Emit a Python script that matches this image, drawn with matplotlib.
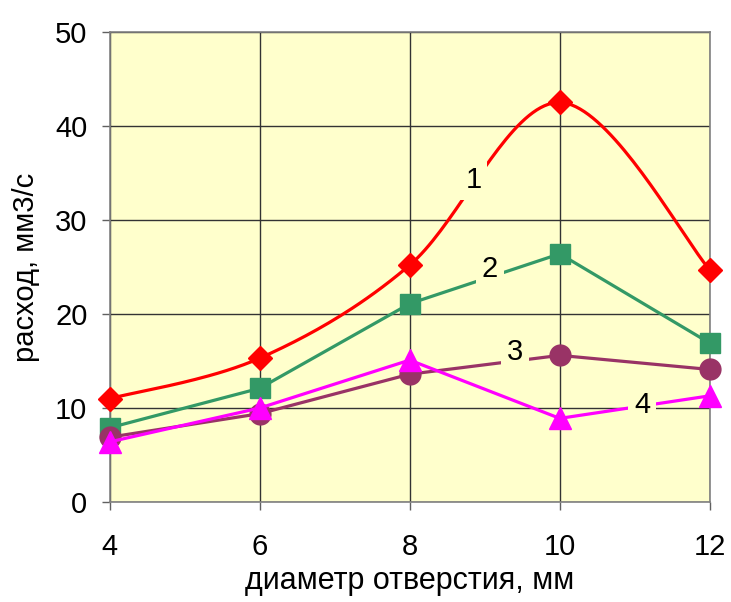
import numpy as np
import matplotlib
matplotlib.use("Agg")
import matplotlib.pyplot as plt

plt.rcParams['font.family'] = ['Liberation Sans', 'DejaVu Sans']

x = [4, 6, 8, 10, 12]
s1 = [11.0, 15.3, 25.2, 42.5, 24.7]
s2 = [7.9, 12.1, 21.1, 26.4, 16.9]
s3 = [6.9, 9.4, 13.6, 15.6, 14.1]
s4 = [6.4, 10.0, 15.1, 8.9, 11.3]
labels = ['1', '2', '3', '4']
label_pos = [(8.85, 34.2), (9.07, 24.8), (9.4, 16.0), (11.1, 10.3)]

def catmull(xs, ys, n=40):
    xs = np.asarray(xs, float); ys = np.asarray(ys, float)
    P = np.column_stack([xs, ys])
    P = np.vstack([P[0], P, P[-1]])
    out = []
    for i in range(1, len(P) - 2):
        p0, p1, p2, p3 = P[i-1], P[i], P[i+1], P[i+2]
        c1 = p1 + (p2 - p0) / 6.0
        c2 = p2 - (p3 - p1) / 6.0
        t = np.linspace(0, 1, n)[:, None]
        b = (1-t)**3*p1 + 3*(1-t)**2*t*c1 + 3*(1-t)*t**2*c2 + t**3*p2
        out.append(b if i == 1 else b[1:])
    out = np.vstack(out)
    return out[:, 0], out[:, 1]

bg = '#FFFFCC'
fig = plt.figure(figsize=(7.31, 6.02), dpi=100)
ax = fig.add_axes([0.150, 0.166, 0.821, 0.781])
ax.set_facecolor(bg)

sx, sy = catmull(x, s1)
ax.plot(sx, sy, color='#FF0000', lw=2.3, zorder=3)
ax.plot(x, s1, ls='none', marker='D', ms=12, color='#FF0000', zorder=4)
ax.plot(x, s2, color='#339966', lw=2.3, marker='s', ms=15, zorder=5)
ax.plot(x, s3, color='#993366', lw=2.3, marker='o', ms=15, zorder=6)
ax.plot(x, s4, color='#FF00FF', lw=2.3, marker='^', ms=16, zorder=7)

for lab, (lx, ly) in zip(labels, label_pos):
    ax.text(lx, ly, lab, fontsize=21, ha='center', va='center', zorder=10,
            bbox=dict(boxstyle='square,pad=0.2', facecolor=bg, edgecolor='none'))

ax.set_xlim(4, 12)
ax.set_ylim(0, 50)
ax.set_xticks(x)
ax.set_yticks([0, 10, 20, 30, 40, 50])
ax.grid(True, color='#333333', lw=1.0, zorder=1)
ax.set_axisbelow(True)
for sp in ax.spines.values():
    sp.set_color('#808080')
    sp.set_linewidth(1.2)
ax.tick_params(axis='both', direction='out', length=6, width=1.0, color='#606060', labelsize=21)
ax.tick_params(axis='x', pad=16)
ax.tick_params(axis='y', pad=10)
ax.set_xlabel('диаметр отверстия, мм', fontsize=22, labelpad=4)
ax.set_ylabel('расход, мм3/с', fontsize=21, labelpad=11)
for line in ax.lines:
    line.set_clip_on(False)

fig.savefig('out.png', dpi=100)
